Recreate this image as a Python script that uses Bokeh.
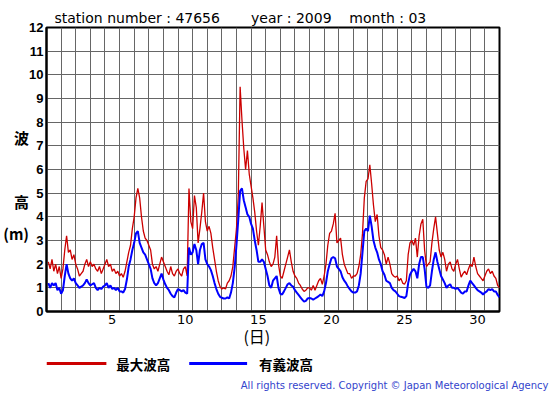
from bokeh.plotting import figure
from bokeh.models import FixedTicker, Range1d
from bokeh.layouts import column
from bokeh.embed import file_html
from bokeh.resources import INLINE
from bokeh.core.properties import value

# ---------------- data (3-hourly readings, March 2009, station 47656) -------------
samples_per_day = 8
days_in_month = 31

max_wave = [
    2.1, 1.8, 2.2, 1.7, 2.0, 1.6, 1.9, 1.4,     # 1
    1.8, 2.6, 3.2, 2.5, 2.6, 2.2, 2.4, 2.0,     # 2
    1.8, 1.5, 1.6, 1.7, 2.0, 2.2, 1.9, 2.1,     # 3
    1.9, 2.0, 1.8, 1.7, 1.9, 1.6, 1.8, 2.0,     # 4
    2.2, 1.9, 2.0, 1.7, 1.8, 1.6, 1.7, 1.5,     # 5
    1.6, 1.45, 1.7, 2.1, 2.5, 2.8, 3.5, 4.0,    # 6
    4.8, 5.2, 4.8, 4.0, 3.4, 3.1, 3.0, 2.8,     # 7
    2.6, 2.0, 1.8, 1.9, 1.7, 2.0, 2.3, 2.1,     # 8
    1.9, 1.7, 1.55, 1.9, 1.6, 1.5, 1.7, 1.8,    # 9
    1.6, 1.5, 1.8, 1.9, 1.5, 5.2, 3.8, 3.5,     # 10
    4.9, 4.4, 2.9, 3.5, 4.2, 5.0, 3.8, 3.4,     # 11
    3.6, 3.3, 2.7, 2.2, 1.7, 1.3, 1.05, 0.95,   # 12
    1.0, 0.95, 1.2, 1.3, 1.5, 1.9, 2.7, 3.5,    # 13
    4.9, 9.5, 8.1, 6.9, 6.0, 6.8, 5.8, 5.3,     # 14
    4.8, 4.2, 3.4, 2.8, 3.6, 4.6, 3.6, 2.6,     # 15
    2.4, 2.1, 1.9, 2.0, 2.3, 3.2, 2.0, 1.5,     # 16
    1.4, 1.7, 2.0, 2.3, 2.6, 2.1, 1.7, 1.5,     # 17
    1.4, 1.2, 1.1, 0.95, 0.85, 0.9, 1.0, 1.0,   # 18
    0.9, 1.1, 0.9, 1.1, 1.3, 1.4, 1.15, 1.5,    # 19
    2.0, 2.8, 3.3, 3.4, 3.7, 4.15, 2.9, 3.0,    # 20
    3.1, 2.4, 2.0, 1.8, 1.6, 1.6, 1.4, 1.5,     # 21
    1.5, 1.6, 1.9, 2.4, 3.3, 4.8, 5.5, 5.6,     # 22
    6.2, 5.4, 4.5, 3.8, 4.1, 3.2, 2.7, 2.6,     # 23
    2.4, 2.0, 2.3, 2.0, 1.6, 1.5, 1.45, 1.5,    # 24
    1.3, 1.4, 1.2, 1.15, 1.3, 2.4, 2.9, 3.0,    # 25
    2.8, 3.1, 2.3, 3.2, 3.7, 3.9, 2.6, 1.9,     # 26
    2.0, 2.1, 2.9, 3.5, 4.0, 3.3, 2.6, 2.3,     # 27
    2.5, 2.2, 1.7, 2.0, 2.1, 1.8, 1.7, 2.0,     # 28
    2.2, 1.8, 1.45, 1.6, 1.7, 1.55, 1.8, 2.0,   # 29
    1.9, 2.3, 1.9, 1.6, 1.5, 1.4, 1.3, 1.5,     # 30
    1.7, 1.8, 1.6, 1.7, 1.5, 1.4, 1.1, 1.0,     # 31
]

sig_wave = [
    1.2, 1.0, 1.2, 1.1, 1.2, 0.9, 1.0, 0.75,    # 1
    0.9, 1.5, 2.0, 1.6, 1.4, 1.3, 1.4, 1.2,     # 2
    1.1, 1.0, 1.05, 1.1, 1.2, 1.35, 1.2, 1.1,   # 3
    1.15, 1.2, 1.0, 0.9, 1.0, 0.95, 1.05, 1.1,  # 4
    1.2, 1.0, 1.1, 0.95, 1.0, 0.9, 1.0, 0.85,   # 5
    0.85, 0.8, 0.95, 1.35, 1.9, 2.2, 2.6, 2.9,  # 6
    3.3, 3.4, 2.9, 2.7, 2.5, 2.4, 2.2, 2.0,     # 7
    1.8, 1.4, 1.2, 1.1, 1.2, 1.4, 1.6, 1.35,    # 8
    1.15, 1.0, 0.9, 0.75, 0.65, 0.6, 0.8, 0.95, # 9
    0.9, 0.85, 0.9, 0.8, 0.75, 2.7, 2.4, 2.5,   # 10
    2.85, 2.6, 2.0, 2.6, 2.85, 2.9, 2.2, 2.0,   # 11
    1.9, 1.75, 1.5, 1.2, 0.95, 0.75, 0.62, 0.58,# 12
    0.55, 0.55, 0.6, 0.55, 0.8, 1.2, 1.85, 2.8, # 13
    3.9, 5.1, 5.2, 4.7, 4.4, 4.1, 4.0, 3.7,     # 14
    3.5, 3.0, 2.6, 2.1, 2.1, 2.2, 2.1, 1.8,     # 15
    1.5, 1.1, 1.0, 1.3, 1.4, 1.5, 1.0, 0.75,    # 16
    0.72, 0.85, 1.0, 1.15, 1.2, 1.1, 1.05, 0.9, # 17
    0.8, 0.7, 0.6, 0.5, 0.42, 0.45, 0.55, 0.57, # 18
    0.55, 0.5, 0.55, 0.6, 0.65, 0.72, 0.65, 0.85,  # 19
    1.2, 1.7, 2.0, 2.25, 2.3, 2.25, 1.9, 1.8,   # 20
    1.7, 1.45, 1.3, 1.2, 1.05, 0.95, 0.85, 0.8, # 21
    0.8, 0.85, 1.1, 1.6, 2.5, 3.4, 3.5, 3.4,    # 22
    4.05, 3.6, 3.0, 2.7, 2.5, 2.2, 2.0, 1.7,    # 23
    1.55, 1.3, 1.25, 1.2, 1.0, 0.9, 0.85, 0.75, # 24
    0.65, 0.62, 0.6, 0.57, 0.65, 1.2, 1.55, 1.7,   # 25
    1.8, 1.7, 1.4, 2.0, 2.3, 2.3, 1.8, 1.05,    # 26
    1.0, 1.1, 1.7, 2.2, 2.5, 2.1, 1.8, 1.5,     # 27
    1.35, 1.2, 1.0, 1.1, 1.15, 1.0, 1.0, 0.95,  # 28
    1.0, 0.9, 0.8, 0.75, 0.85, 0.85, 1.1, 1.3,  # 29
    1.2, 1.1, 1.0, 0.9, 0.85, 0.8, 0.72, 0.8,   # 30
    0.85, 0.95, 0.9, 0.95, 0.85, 0.85, 0.7, 0.6,   # 31
]

x_tick_days = [5, 10, 15, 20, 25, 30]
y_ticks = list(range(0, 13))
series_labels = ["最大波高", "有義波高"]
series_colors = ["#cc0000", "#0000ff"]
station = "47656"
year = "2009"
month = "03"
credit = "All rights reserved. Copyright © Japan Meteorological Agency"

# time in days since 1 March 00:00 (each sample at the end of its 3-h slot)
t_days = [(i + 1) / samples_per_day for i in range(len(max_wave))]

# ---------------- layout constants (pixels) ----------------
FL, FR, FT, FB = 45, 499, 27, 311
W_MAIN, H_MAIN = FR + 3, 352
W_LEG, H_LEG = 552, 40
NB = "\u00a0"

p = figure(width=W_MAIN, height=H_MAIN, output_backend="svg", toolbar_location=None,
           x_range=Range1d(0, days_in_month), y_range=Range1d(0, 12),
           min_border_left=FL, min_border_right=W_MAIN - FR,
           min_border_top=FT, min_border_bottom=H_MAIN - FB)
p.background_fill_color = "white"
p.border_fill_color = "white"
p.outline_line_color = "black"
p.outline_line_width = 2

p.line(t_days, max_wave, line_color=series_colors[0], line_width=1.3)
p.line(t_days, sig_wave, line_color=series_colors[1], line_width=2)

# title line
p.title.text = ("station number : " + station + NB * 7 + "year : " + year
                + NB * 4 + "month : " + month)
p.title.align = "left"
p.title.offset = 8
p.title.standoff = 3
p.title.text_font = "DejaVu Sans"
p.title.text_font_size = "14px"
p.title.text_font_style = "normal"
p.title.text_color = "black"

# axes
p.xaxis.ticker = FixedTicker(ticks=[d - 0.5 for d in x_tick_days])
p.xaxis.major_label_overrides = {d - 0.5: str(d) for d in x_tick_days}
p.yaxis.ticker = FixedTicker(ticks=y_ticks)
for ax in (p.xaxis[0], p.yaxis[0]):
    ax.major_tick_line_color = None
    ax.minor_tick_line_color = None
    ax.major_tick_out = 0
    ax.major_tick_in = 0
    ax.minor_tick_out = 0
    ax.minor_tick_in = 0
    ax.axis_line_color = "black"
    ax.axis_line_width = 2
p.xaxis.major_label_standoff = 3
p.yaxis.major_label_standoff = 3
p.xaxis.major_label_text_font = "DejaVu Sans"
p.xaxis.major_label_text_font_size = "13px"
p.xaxis.major_label_text_color = "black"
p.yaxis.major_label_text_font = "Liberation Sans"
p.yaxis.major_label_text_font_size = "13px"
p.yaxis.major_label_text_font_style = "bold"
p.yaxis.major_label_text_color = "black"

# axis titles
p.xaxis.axis_label = "(日)" + NB * 9
p.xaxis.axis_label_standoff = -3
p.xaxis.axis_label_text_font = "Noto Sans CJK JP"
p.xaxis.axis_label_text_font_size = "16px"
p.xaxis.axis_label_text_font_style = "normal"
p.xaxis.axis_label_text_color = "black"

p.yaxis.axis_label = "\n波\n\n高\n(m)"
p.yaxis.axis_label_orientation = "horizontal"
p.yaxis.axis_label_standoff = -3
p.yaxis.axis_label_text_align = "center"
p.yaxis.axis_label_text_font = "Noto Sans CJK JP"
p.yaxis.axis_label_text_font_size = "15px"
p.yaxis.axis_label_text_font_style = "bold"
p.yaxis.axis_label_text_line_height = 1.52
p.yaxis.axis_label_text_color = "black"

p.xgrid.ticker = FixedTicker(ticks=list(range(1, days_in_month)))
p.ygrid.ticker = FixedTicker(ticks=y_ticks[1:-1])
for g in (p.xgrid[0], p.ygrid[0]):
    g.grid_line_color = "#666666"
    g.grid_line_width = 1
    g.grid_line_alpha = 1.0

# ---------------- legend + credit strip (page-pixel coordinates, y down) ----------------
LEG_L, LEG_R = FL, W_LEG - 3
q = figure(width=W_LEG, height=H_LEG, output_backend="svg", toolbar_location=None,
           x_range=Range1d(LEG_L, LEG_R), y_range=Range1d(H_LEG, 0),
           x_axis_type=None, y_axis_type=None,
           min_border_left=LEG_L, min_border_right=W_LEG - LEG_R,
           min_border_top=0, min_border_bottom=0)
q.outline_line_color = None
q.grid.visible = False
q.background_fill_color = "white"
q.border_fill_color = "white"

q.segment(x0=[45, 188], y0=[11, 11], x1=[105, 246], y1=[11, 11],
          line_color=series_colors, line_width=3)
q.text(x=[115, 258], y=[11, 11], text=series_labels,
       text_font=value("Noto Sans CJK JP"), text_font_style="bold",
       text_font_size="13.5px", text_baseline="middle", text_color="black")
q.text(x=[548], y=[33], text=[credit],
       text_font=value("DejaVu Sans"), text_font_size="10px", text_align="right",
       text_baseline="middle", text_color="#3344cc")

layout = column(p, q)
open("out.html", "w").write(file_html(layout, INLINE))
